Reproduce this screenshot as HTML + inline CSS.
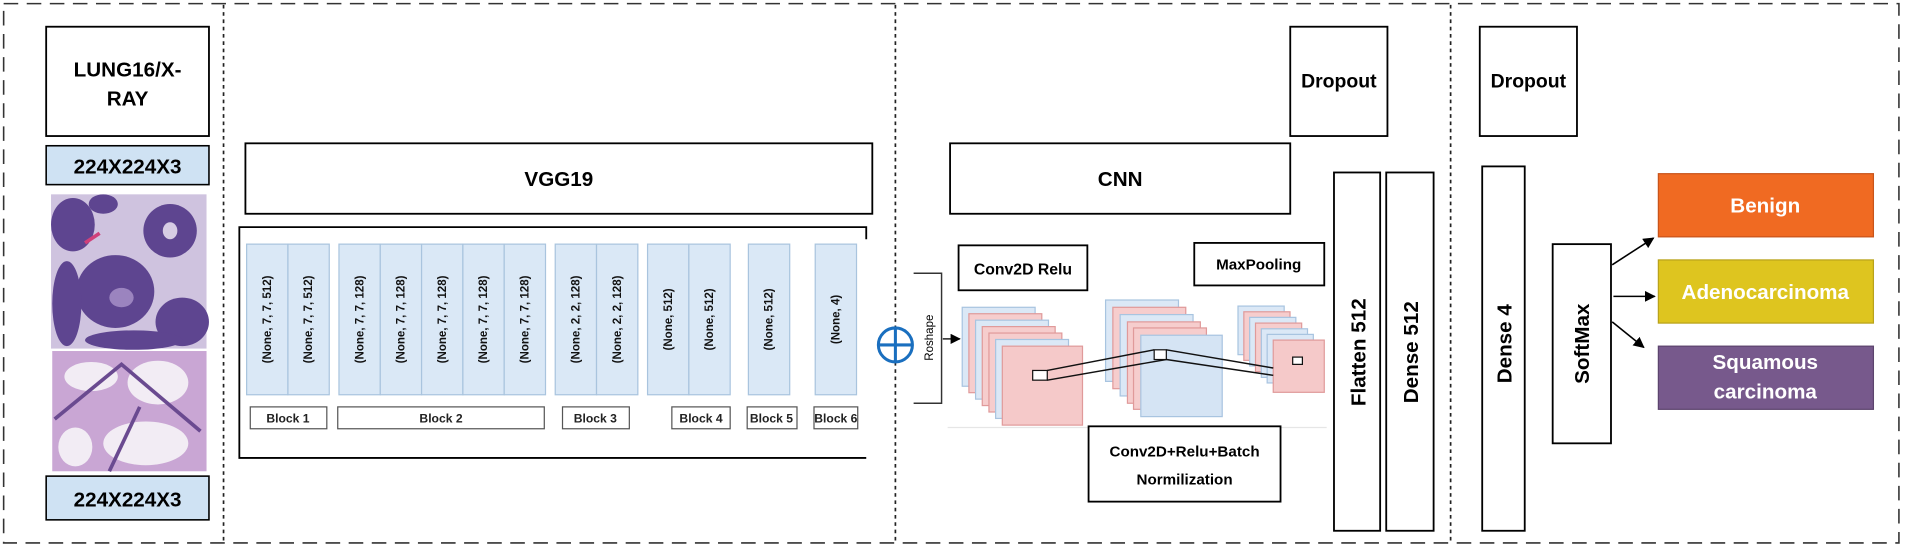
<!DOCTYPE html>
<html><head><meta charset="utf-8"><style>
html,body{margin:0;padding:0;background:#fff;}
svg{display:block;}
text{font-family:"Liberation Sans",Arial,sans-serif;}
</style></head><body>
<svg width="1905" height="549" viewBox="0 0 1568 452" preserveAspectRatio="none" xmlns="http://www.w3.org/2000/svg">
<defs>
<marker id="ar" viewBox="0 0 10 10" refX="9" refY="5" markerWidth="7" markerHeight="7" orient="auto"><path d="M0,0 L10,5 L0,10 z" fill="#000"/></marker>
</defs>
<rect x="3" y="3" width="1560" height="444" fill="none" stroke="#333" stroke-width="1.3" stroke-dasharray="12,7"/>
<line x1="184" y1="4" x2="184" y2="446" stroke="#222" stroke-width="1.4" stroke-dasharray="3,3"/>
<line x1="737" y1="4" x2="737" y2="446" stroke="#222" stroke-width="1.4" stroke-dasharray="3,3"/>
<line x1="1194" y1="4" x2="1194" y2="446" stroke="#222" stroke-width="1.4" stroke-dasharray="3,3"/>

<rect x="38" y="22" width="134" height="90" fill="#fff" stroke="#000" stroke-width="1.5"/>
<text x="105" y="63" font-size="17" font-weight="bold" text-anchor="middle">LUNG16/X-</text>
<text x="105" y="87" font-size="17" font-weight="bold" text-anchor="middle">RAY</text>
<rect x="38" y="120" width="134" height="32" fill="#cfe2f3" stroke="#000" stroke-width="1.3"/>
<text x="105" y="143" font-size="17" font-weight="bold" text-anchor="middle">224X224X3</text>
<rect x="42" y="160" width="128" height="127" fill="#cfc3df"/>
<g fill="#5e4590">
<ellipse cx="60" cy="185" rx="18" ry="22"/><ellipse cx="140" cy="190" rx="22" ry="22"/>
<ellipse cx="95" cy="240" rx="32" ry="30"/><ellipse cx="55" cy="250" rx="12" ry="35"/>
<ellipse cx="150" cy="265" rx="22" ry="20"/><ellipse cx="110" cy="280" rx="40" ry="8"/>
<ellipse cx="85" cy="168" rx="12" ry="8"/>
</g>
<ellipse cx="140" cy="190" rx="6" ry="7" fill="#d7cce4"/>
<ellipse cx="100" cy="245" rx="10" ry="8" fill="#9b84bf"/>
<path d="M70 200 L82 192" stroke="#d0407a" stroke-width="3"/>
<rect x="43" y="289" width="127" height="99" fill="#c9a6d4"/>
<g fill="#f2ecf4">
<ellipse cx="130" cy="315" rx="25" ry="18"/><ellipse cx="75" cy="310" rx="22" ry="12"/>
<ellipse cx="120" cy="365" rx="35" ry="18"/><ellipse cx="62" cy="368" rx="14" ry="16"/>
</g>
<g stroke="#6a4a90" stroke-width="3" fill="none">
<path d="M45 345 L100 300 L165 355"/><path d="M90 388 L115 335"/>
</g>
<rect x="38" y="392" width="134" height="36" fill="#cfe2f3" stroke="#000" stroke-width="1.3"/>
<text x="105" y="417" font-size="17" font-weight="bold" text-anchor="middle">224X224X3</text>

<rect x="202" y="118" width="516" height="58" fill="#fff" stroke="#000" stroke-width="1.5"/>
<text x="460" y="153" font-size="17" font-weight="bold" text-anchor="middle">VGG19</text>
<path d="M713 197 L713 187 L197 187 L197 377 L713 377" fill="none" stroke="#000" stroke-width="1.5"/>
<g fill="#dae8f6" stroke="#a9c4de" stroke-width="1">
<rect x="203" y="201" width="34" height="124"/><rect x="237" y="201" width="34" height="124"/>
<rect x="279" y="201" width="34" height="124"/><rect x="313" y="201" width="34" height="124"/><rect x="347" y="201" width="34" height="124"/><rect x="381" y="201" width="34" height="124"/><rect x="415" y="201" width="34" height="124"/>
<rect x="457" y="201" width="34" height="124"/><rect x="491" y="201" width="34" height="124"/>
<rect x="533" y="201" width="34" height="124"/><rect x="567" y="201" width="34" height="124"/>
<rect x="616" y="201" width="34" height="124"/>
<rect x="671" y="201" width="34" height="124"/>
</g>
<g font-size="9.5" font-weight="bold" fill="#111" text-anchor="middle">
<text transform="translate(223,263) rotate(-90)">(None, 7, 7, 512)</text>
<text transform="translate(257,263) rotate(-90)">(None, 7, 7, 512)</text>
<text transform="translate(299,263) rotate(-90)">(None, 7, 7, 128)</text>
<text transform="translate(333,263) rotate(-90)">(None, 7, 7, 128)</text>
<text transform="translate(367,263) rotate(-90)">(None, 7, 7, 128)</text>
<text transform="translate(401,263) rotate(-90)">(None, 7, 7, 128)</text>
<text transform="translate(435,263) rotate(-90)">(None, 7, 7, 128)</text>
<text transform="translate(477,263) rotate(-90)">(None, 2, 2, 128)</text>
<text transform="translate(511,263) rotate(-90)">(None, 2, 2, 128)</text>
<text transform="translate(553,263) rotate(-90)">(None, 512)</text>
<text transform="translate(587,263) rotate(-90)">(None, 512)</text>
<text transform="translate(636,263) rotate(-90)">(None, 512)</text>
<text transform="translate(691,263) rotate(-90)">(None, 4)</text>
</g>
<g fill="#fff" stroke="#555" stroke-width="1">
<rect x="206" y="335" width="63" height="18"/><rect x="278" y="335" width="170" height="18"/>
<rect x="463" y="335" width="55" height="18"/><rect x="553" y="335" width="48" height="18"/>
<rect x="615" y="335" width="41" height="18"/><rect x="670" y="335" width="36" height="18"/>
</g>
<g font-size="10" font-weight="bold" fill="#222" text-anchor="middle">
<text x="237" y="348">Block 1</text><text x="363" y="348">Block 2</text>
<text x="490" y="348">Block 3</text><text x="577" y="348">Block 4</text>
<text x="635" y="348">Block 5</text><text x="688" y="348">Block 6</text>
</g>
<circle cx="737" cy="284" r="14" fill="#fff" stroke="#1a6fbf" stroke-width="2.5"/>
<path d="M724 284 H750 M737 271 V297" stroke="#1a6fbf" stroke-width="2.5"/>

<rect x="782" y="118" width="280" height="58" fill="#fff" stroke="#000" stroke-width="1.5"/>
<text x="922" y="153" font-size="17" font-weight="bold" text-anchor="middle">CNN</text>
<rect x="1062" y="22" width="80" height="90" fill="#fff" stroke="#000" stroke-width="1.5"/>
<text x="1102" y="72" font-size="16" font-weight="bold" text-anchor="middle">Dropout</text>
<path d="M752 225 H775 V332 H752" fill="none" stroke="#333" stroke-width="1.2"/>
<text transform="translate(768,278) rotate(-90)" font-size="9.5" text-anchor="middle">Roshape</text>
<line x1="776" y1="279" x2="790" y2="279" stroke="#222" stroke-width="1.2" marker-end="url(#ar)"/>
<line x1="780" y1="352" x2="1092" y2="352" stroke="#e6e6e6" stroke-width="1"/>
<g stroke-width="1">
<rect x="792" y="253" width="60" height="65" fill="#dbe8f6" stroke="#a8c4e0"/>
<rect x="797.5" y="258.3" width="60" height="65" fill="#f6cdcd" stroke="#e09a9a"/>
<rect x="803" y="263.6" width="60" height="65" fill="#dbe8f6" stroke="#a8c4e0"/>
<rect x="808.5" y="268.9" width="60" height="65" fill="#f6cdcd" stroke="#e09a9a"/>
<rect x="814" y="274.2" width="60" height="65" fill="#f6cdcd" stroke="#e09a9a"/>
<rect x="819.5" y="279.5" width="60" height="65" fill="#dbe8f6" stroke="#a8c4e0"/>
<rect x="825" y="285" width="66" height="65" fill="#f5c9c9" stroke="#e09a9a"/>
</g>
<g stroke-width="1">
<rect x="910" y="247" width="60" height="67" fill="#dbe8f6" stroke="#a8c4e0"/>
<rect x="916" y="253" width="60" height="67" fill="#f6cdcd" stroke="#e09a9a"/>
<rect x="922" y="259" width="60" height="67" fill="#dbe8f6" stroke="#a8c4e0"/>
<rect x="928" y="265" width="60" height="67" fill="#f6cdcd" stroke="#e09a9a"/>
<rect x="933" y="270" width="60" height="67" fill="#f6cdcd" stroke="#e09a9a"/>
<rect x="939" y="276" width="67" height="67" fill="#d5e4f4" stroke="#a8c4e0"/>
</g>
<g stroke-width="1">
<rect x="1019" y="252" width="38" height="40" fill="#dbe8f6" stroke="#a8c4e0"/>
<rect x="1023.8" y="256.7" width="38" height="40" fill="#f6cdcd" stroke="#e09a9a"/>
<rect x="1028.6" y="261.3" width="38" height="40" fill="#dbe8f6" stroke="#a8c4e0"/>
<rect x="1033.4" y="266" width="38" height="40" fill="#f6cdcd" stroke="#e09a9a"/>
<rect x="1038.2" y="270.7" width="38" height="40" fill="#dbe8f6" stroke="#a8c4e0"/>
<rect x="1043" y="275.3" width="38" height="40" fill="#dbe8f6" stroke="#a8c4e0"/>
<rect x="1048" y="280" width="42" height="43" fill="#f5c9c9" stroke="#e09a9a"/>
</g>
<g stroke="#111" stroke-width="1.2" fill="none">
<line x1="862" y1="305" x2="950" y2="288"/>
<line x1="862" y1="313" x2="960" y2="296"/>
<line x1="960" y1="288" x2="1048" y2="303"/>
<line x1="960" y1="296" x2="1048" y2="309"/>
</g>
<rect x="850" y="305" width="12" height="8" fill="#fff" stroke="#111" stroke-width="1"/>
<rect x="950" y="288" width="10" height="8" fill="#fff" stroke="#111" stroke-width="1"/>
<rect x="1064" y="294" width="8" height="6" fill="#fff" stroke="#111" stroke-width="1"/>
<rect x="789" y="202" width="106" height="37" fill="#fff" stroke="#000" stroke-width="1.5"/>
<text x="842" y="226" font-size="13" font-weight="bold" text-anchor="middle">Conv2D Relu</text>
<rect x="983" y="200" width="107" height="35" fill="#fff" stroke="#000" stroke-width="1.5"/>
<text x="1036" y="222" font-size="12.5" font-weight="bold" text-anchor="middle">MaxPooling</text>
<rect x="896" y="351" width="158" height="62" fill="#fff" stroke="#000" stroke-width="1.5"/>
<text x="975" y="376" font-size="12.5" font-weight="bold" text-anchor="middle">Conv2D+Relu+Batch</text>
<text x="975" y="399" font-size="12.5" font-weight="bold" text-anchor="middle">Normilization</text>
<rect x="1098" y="142" width="38" height="295" fill="#fff" stroke="#000" stroke-width="1.5"/>
<text transform="translate(1124,290) rotate(-90)" font-size="17" font-weight="bold" text-anchor="middle">Flatten 512</text>
<rect x="1141" y="142" width="39" height="295" fill="#fff" stroke="#000" stroke-width="1.5"/>
<text transform="translate(1167,290) rotate(-90)" font-size="17" font-weight="bold" text-anchor="middle">Dense 512</text>

<rect x="1218" y="22" width="80" height="90" fill="#fff" stroke="#000" stroke-width="1.5"/>
<text x="1258" y="72" font-size="16" font-weight="bold" text-anchor="middle">Dropout</text>
<rect x="1220" y="137" width="35" height="300" fill="#fff" stroke="#000" stroke-width="1.5"/>
<text transform="translate(1244,283) rotate(-90)" font-size="17" font-weight="bold" text-anchor="middle">Dense 4</text>
<rect x="1278" y="201" width="48" height="164" fill="#fff" stroke="#000" stroke-width="1.5"/>
<text transform="translate(1308,283) rotate(-90)" font-size="17" font-weight="bold" text-anchor="middle">SoftMax</text>
<rect x="1365" y="143" width="177" height="52" fill="#f06a22" stroke="#c9541a" stroke-width="1"/>
<text x="1453" y="175" font-size="17" font-weight="bold" fill="#fff" text-anchor="middle">Benign</text>
<rect x="1365" y="214" width="177" height="52" fill="#dec51f" stroke="#b9a21a" stroke-width="1"/>
<text x="1453" y="246" font-size="17" font-weight="bold" fill="#fff" text-anchor="middle">Adenocarcinoma</text>
<rect x="1365" y="285" width="177" height="52" fill="#77598c" stroke="#5c446d" stroke-width="1"/>
<text x="1453" y="304" font-size="17" font-weight="bold" fill="#fff" text-anchor="middle">Squamous</text>
<text x="1453" y="328" font-size="17" font-weight="bold" fill="#fff" text-anchor="middle">carcinoma</text>
<g stroke="#000" stroke-width="1.3">
<line x1="1327" y1="218" x2="1361" y2="196" marker-end="url(#ar)"/>
<line x1="1328" y1="244" x2="1362" y2="244" marker-end="url(#ar)"/>
<line x1="1327" y1="265" x2="1353" y2="286" marker-end="url(#ar)"/>
</g>
</svg>
</body></html>
